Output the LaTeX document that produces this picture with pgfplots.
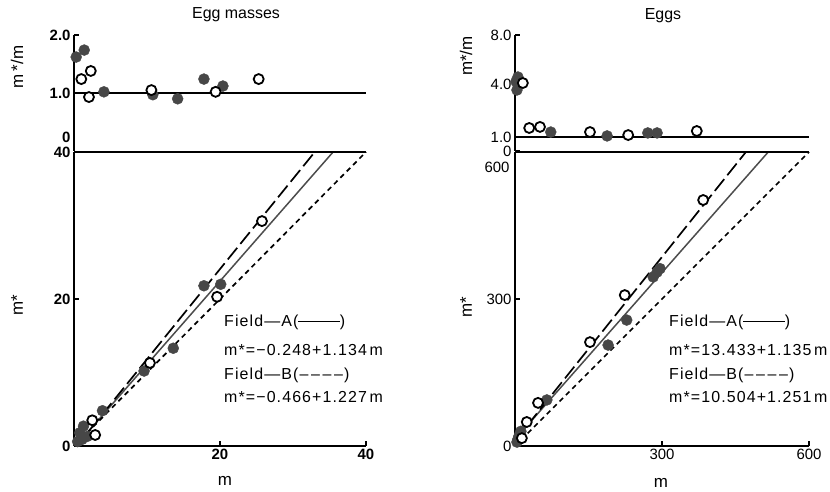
\documentclass[border=0pt]{standalone}
\usepackage{fontspec}
\setmainfont{Liberation Sans}
\newfontfamily\spaced{Liberation Sans}[LetterSpace=7]
\usepackage{pgfplots}
\pgfplotsset{compat=1.18}

\pgfplotsset{
  panel/.style={
    scale only axis, clip=false,
    axis line style={-, line width=1.7bp, black},
    tick style={line width=1.3bp, black},
    major tick length=5bp,
    /pgf/number format/assume math mode=true,
  },
  boldticks/.style={ticklabel style={font=\fontsize{15}{15}\selectfont\bfseries}},
  plainticks/.style={ticklabel style={font=\fontsize{15}{15}\selectfont}},
  filled/.style={only marks, mark=*, mark size=5.5bp, mark options={draw=black!72, fill=black!72}},
  open/.style={only marks, mark=*, mark size=5bp, mark options={line width=1.8bp, draw=black, fill=white}},
  fitA/.style={line width=1.5bp, black!70},
  fitB/.style={line width=1.7bp, black, dash pattern=on 15bp off 5bp},
  oneone/.style={line width=1.7bp, black, dash pattern=on 5bp off 4bp},
}
\newcommand{\lab}{\fontsize{16}{16}\selectfont}

\begin{document}
\begin{tikzpicture}
\useasboundingbox (0,0) rectangle (830bp,492bp);

% ---------- Egg masses: m* vs m ----------
\begin{axis}[panel, boldticks, at={(74bp,46bp)}, anchor=south west,
  width=292bp, height=294bp,
  xmin=0, xmax=40, ymin=0, ymax=40,
  axis x line*=bottom, axis y line*=left, tick align=inside,
  xtick={20,40}, ytick={0,20,40}]
\addplot[fitA] coordinates {(0.219,0) (35.49,40)};
\addplot[fitB] coordinates {(0.380,0) (32.98,40)};
\addplot[oneone] coordinates {(0,0) (40,40)};
\addplot[filled] coordinates {
  (0.5,0.6) (0.8,1.8) (1.3,2.7) (1.8,1.3) (1.1,0.9)
  (3.9,4.8) (9.6,10.2) (13.6,13.3) (17.8,21.8) (20.1,22.0)};
\addplot[open] coordinates {
  (2.5,3.5) (2.9,1.5) (10.4,11.3) (19.6,20.3) (25.75,30.6)};
\draw[line width=1.7bp] (axis cs:0,40) -- (axis cs:40,40);
\end{axis}

% ---------- Egg masses: m*/m ----------
\begin{axis}[panel, boldticks, at={(74bp,341bp)}, anchor=south west,
  width=292bp, height=116bp,
  xmin=0, xmax=40, ymin=0, ymax=2,
  axis y line*=left, axis x line=none, tick align=inside,
  ytick={1,2}, yticklabels={1.0,2.0}]
\addplot[line width=1.5bp, black] coordinates {(0,1) (40,1)};
\addplot[filled] coordinates {
  (0.3,1.62) (1.4,1.74) (4.1,1.02) (10.8,0.97) (14.2,0.90) (17.8,1.24) (20.4,1.12)};
\addplot[open] coordinates {
  (1.0,1.24) (2.3,1.38) (2.05,0.93) (10.6,1.05) (19.4,1.02) (25.3,1.24)};
\node[anchor=east, font=\fontsize{15}{15}\selectfont\bfseries] at (axis cs:0,0.24) {0};
\end{axis}

% ---------- Eggs: m* vs m ----------
\begin{axis}[panel, plainticks, at={(515bp,46bp)}, anchor=south west,
  width=294bp, height=294bp,
  xmin=0, xmax=600, ymin=0, ymax=600,
  axis x line*=bottom, axis y line*=left, tick align=inside,
  xtick={300,600}, ytick={0,300,600}, yticklabels={0,300,{}}]
\addplot[fitA] coordinates {(0,13.433) (516.8,600)};
\addplot[fitB] coordinates {(0,10.504) (471.2,600)};
\addplot[oneone] coordinates {(0,0) (600,600)};
\addplot[filled] coordinates {
  (4,8) (8,20) (12,30) (6,14) (65,94) (190,206) (228,257)
  (282,345) (290,355) (296,362)};
\addplot[open] coordinates {
  (14,16) (24,49) (47,88) (153,212) (224,308) (384,502)};
\draw[line width=1.7bp] (axis cs:0,600) -- (axis cs:600,600);
\node[anchor=east, font=\fontsize{15}{15}\selectfont] at (axis cs:0,600) [yshift=-15bp, xshift=-2bp] {600};
\end{axis}

% ---------- Eggs: m*/m (broken scale 0-1-4-8) ----------
\begin{axis}[panel, plainticks, at={(515bp,341bp)}, anchor=south west,
  width=294bp, height=116bp,
  xmin=0, xmax=600, ymin=0, ymax=8,
  y coord trafo/.code={\pgfmathparse{(#1<=1)*14*#1+(#1>1)*(#1<=4)*(14+17.67*(#1-1))+(#1>4)*(67+12.25*(#1-4))}},
  axis y line*=left, axis x line=none, tick align=inside,
  ytick={0,1,4,8}, yticklabels={0,1.0,4.0,8.0}]
\addplot[line width=1.5bp, black] coordinates {(0,1) (600,1)};
\addplot[filled] coordinates {
  (6,4.57) (4,3.66) (2,4.2) (73,1.28) (188,1.06) (271,1.23) (290,1.23)};
\addplot[open] coordinates {
  (16,4.08) (29,1.51) (51,1.57) (153,1.28) (231,1.11) (371,1.34)};
\end{axis}

% ---------- titles and labels ----------
\node[font=\lab] at (236bp,477bp) {Egg masses};
\node[font=\lab] at (663bp,476bp) {Eggs};
\node[font=\fontsize{17}{17}\selectfont, rotate=90] at (17bp,425bp) {m\,*/m};
\node[font=\fontsize{17}{17}\selectfont, rotate=90] at (17bp,187bp) {m*};
\node[font=\fontsize{17}{17}\selectfont, rotate=90] at (466bp,436bp) {m*/m};
\node[font=\fontsize{17}{17}\selectfont, rotate=90] at (466bp,185bp) {m*};
\node[font=\fontsize{17}{17}\selectfont] at (225bp,11bp) {m};
\node[font=\fontsize{17}{17}\selectfont] at (661bp,9bp) {m};

% ---------- regression equations ----------
\begin{scope}[every node/.style={anchor=base west, inner sep=0pt, font=\spaced\lab}]
\node at (224bp,165bp) {Field—A(\rule[0.3em]{2.6em}{1pt})};
\node at (224bp,136bp) {m*=−0.248+1.134\,m};
\node at (224bp,112bp) {Field—B(–\,–\,–\,–)};
\node at (224bp,89bp)  {m*=−0.466+1.227\,m};
\node at (669bp,165bp) {Field—A(\rule[0.3em]{2.6em}{1pt})};
\node at (669bp,136bp) {m*=13.433+1.135\,m};
\node at (669bp,112bp) {Field—B(–\,–\,–\,–)};
\node at (669bp,89bp)  {m*=10.504+1.251\,m};
\end{scope}
\end{tikzpicture}
\end{document}
